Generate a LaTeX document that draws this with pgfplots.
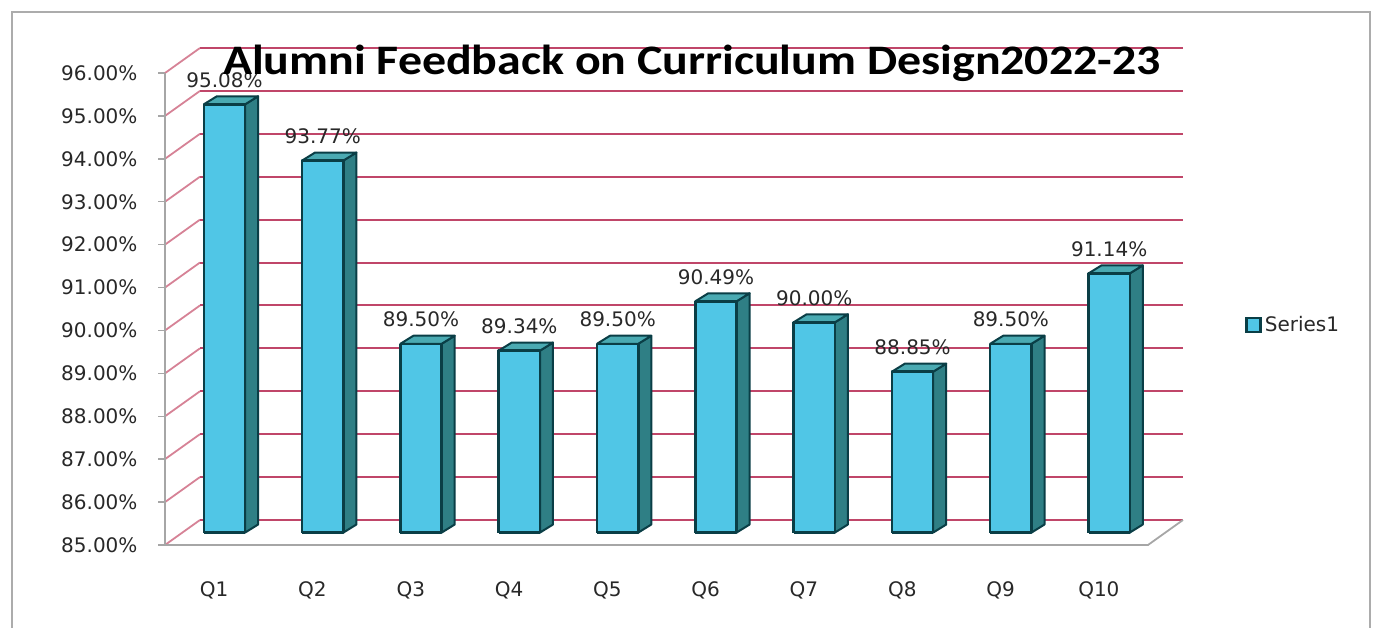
\documentclass[border=0pt]{standalone}
\usepackage{pgfplots}
\pgfplotsset{compat=1.18}
\usepackage{fontspec}
\setmainfont{DejaVu Sans}
\newfontfamily\titlefont[FakeStretch=1.14]{Carlito}
\definecolor{barfront}{RGB}{80,198,230}
\definecolor{bartop}{RGB}{74,170,178}
\definecolor{barside}{RGB}{47,127,133}
\definecolor{barline}{RGB}{10,62,70}
\definecolor{gridpink}{RGB}{192,70,105}
\definecolor{wallpink}{RGB}{214,130,150}
\definecolor{txt}{RGB}{40,40,40}
\begin{document}
\begin{tikzpicture}
\useasboundingbox (0,0) rectangle (1377pt,628pt);
\draw[gray!65, line width=2pt] (12pt,-5pt) -- (12pt,616pt) -- (1370pt,616pt) -- (1370pt,-5pt);
\begin{axis}[
  at={(165pt,83pt)}, anchor=south west,
  scale only axis, width=1018pt, height=497pt,
  xmin=0.5, xmax=10.856, ymin=85, ymax=96.583,
  clip=false,
  axis lines=left,
  axis line style={draw=none},
  xtick={1,...,10},
  xticklabels={Q1,Q2,Q3,Q4,Q5,Q6,Q7,Q8,Q9,Q10},
  extra x ticks={0.5,1.5,...,10.5},
  extra x tick labels={},
  extra x tick style={major tick length=7pt, tick style={draw=gray!70, line width=1.5pt}},
  xtick style={draw=none},
  ytick={85,...,96},
  yticklabels={85.00\%,86.00\%,87.00\%,88.00\%,89.00\%,90.00\%,91.00\%,92.00\%,93.00\%,94.00\%,95.00\%,96.00\%},
  ytick style={draw=gray!70, line width=1.5pt},
  tick align=outside,
  major tick length=7pt,
  /pgf/number format/assume math mode=true,
  ticklabel style={font=\fontsize{20}{24}\selectfont, text=txt},
  xticklabel style={yshift=-26pt},
  yticklabel style={xshift=-17pt},
  legend style={at={(1.061,0.4427)}, anchor=west, draw=none, fill=none,
    font=\fontsize{20}{24}\selectfont, text=txt, inner sep=0pt,
    nodes={inner sep=3pt}},
  legend cell align=left,
]
\addlegendimage{legend image code/.code={\draw[fill=barfront,draw=barline,line width=2.5pt] (0pt,-7pt) rectangle (14pt,7pt);}}
\addlegendentry{Series1}

% walls
\pgfplotsforeachungrouped \g in {85,...,96}{%
  \pgfmathsetmacro\gb{\g+0.583}%
  \edef\cmd{%
    \noexpand\addplot[forget plot, wallpink, line width=1.8pt] coordinates {(0.5,\g) (0.856,\gb)};
    \noexpand\addplot[forget plot, gridpink, line width=2pt] coordinates {(0.856,\gb) (10.856,\gb)};
  }%
  \cmd
}
% floor and left axis
\addplot[forget plot, gray!70, line width=1.8pt] coordinates {(0.5,96) (0.5,85) (10.5,85) (10.856,85.583)};

% 3D bars
\pgfplotsforeachungrouped \i/\v in {1/95.08,2/93.77,3/89.50,4/89.34,5/89.50,6/90.49,7/90.00,8/88.85,9/89.50,10/91.14}{%
  \pgfmathsetmacro\xl{\i-0.105}%
  \pgfmathsetmacro\xr{\i+0.315}%
  \pgfmathsetmacro\xrs{\i+0.447}%
  \pgfmathsetmacro\xls{\i+0.027}%
  \pgfmathsetmacro\yt{\v+0.19}%
  \pgfmathsetmacro\yts{\v+0.377}%
  \edef\cmd{%
    \noexpand\addplot[forget plot, fill=barside, draw=barline, line width=2pt, line join=round] coordinates {(\xr,85.29) (\xrs,85.477) (\xrs,\yts) (\xr,\yt) (\xr,85.29)};
    \noexpand\addplot[forget plot, fill=bartop, draw=barline, line width=2pt, line join=round] coordinates {(\xl,\yt) (\xls,\yts) (\xrs,\yts) (\xr,\yt) (\xl,\yt)};
    \noexpand\addplot[forget plot, fill=barfront, draw=barline, line width=2.5pt, line join=round] coordinates {(\xl,85.29) (\xr,85.29) (\xr,\yt) (\xl,\yt) (\xl,85.29)};
  }%
  \cmd
}

% data labels
\addplot[forget plot, only marks, mark=none,
  nodes near coords, point meta=explicit symbolic,
  every node near coord/.style={anchor=base, yshift=9pt, inner sep=0pt,
    font=\fontsize{20}{24}\selectfont, text=txt}]
  table[meta=lab] {
x y lab
1.105 95.457 95.08\%
2.105 94.147 93.77\%
3.105 89.877 89.50\%
4.105 89.717 89.34\%
5.105 89.877 89.50\%
6.105 90.867 90.49\%
7.105 90.377 90.00\%
8.105 89.227 88.85\%
9.105 89.877 89.50\%
10.105 91.517 91.14\%
};
\end{axis}
\node[anchor=base, font=\titlefont\fontsize{42}{50}\selectfont\bfseries, text=black] at (692pt,553pt) {Alumni Feedback on Curriculum Design2022-23};
\end{tikzpicture}
\end{document}
